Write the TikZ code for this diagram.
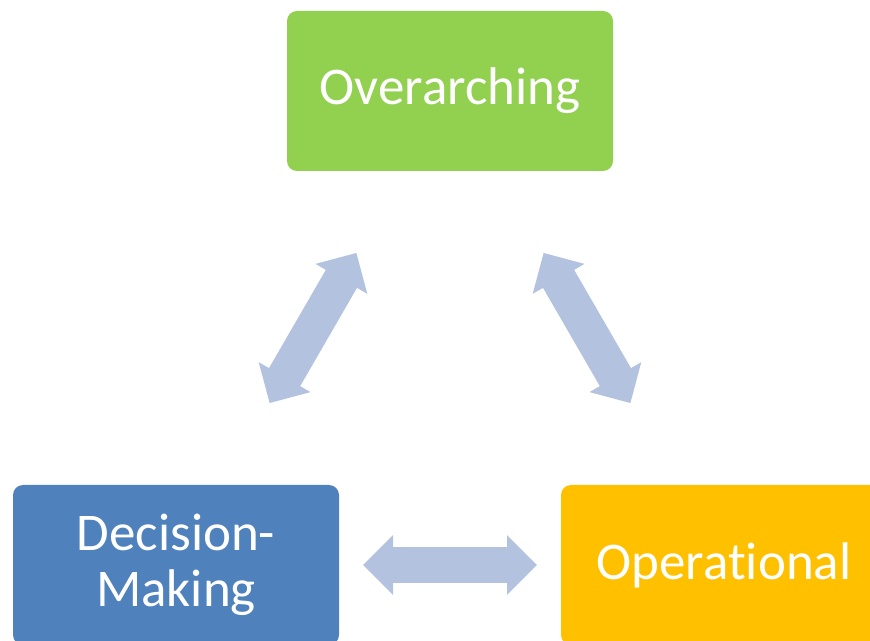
\documentclass[tikz,border=0pt]{standalone}
\usepackage{fontspec}
\setmainfont{Carlito}[Ligatures=NoCommon]
\usetikzlibrary{arrows.meta}

\definecolor{boxgreen}{HTML}{92D050}
\definecolor{boxblue}{HTML}{4F81BD}
\definecolor{boxorange}{HTML}{FFC000}
\definecolor{arrowblue}{HTML}{B3C3DF}

\begin{document}
\begin{tikzpicture}[x=1pt, y=1pt,
        levelbox/.style={rounded corners=10pt, minimum width=326pt, minimum height=160pt,
                inner sep=0pt, align=center, text=white, font=\fontsize{53}{56}\selectfont},
        biarrow/.style={draw=arrowblue, line width=36pt, shorten <=187pt, shorten >=187pt,
                {Triangle[length=30pt, width=58pt]}-{Triangle[length=30pt, width=58pt]}}]

                \useasboundingbox (0,0) rectangle (870,640);

                \node[levelbox, fill=boxgreen] (over) at (450,549) {Overarching};
                \node[levelbox, fill=boxblue] (dec) at (176,75) {Decision-\\Making};
                \node[levelbox, fill=boxorange] (oper) at (724,75) {Operational};

                \draw[biarrow] (over.center) -- (dec.center);
                \draw[biarrow] (over.center) -- (oper.center);
                \draw[biarrow] (dec.center) -- (oper.center);
            \end{tikzpicture}
\end{document}
